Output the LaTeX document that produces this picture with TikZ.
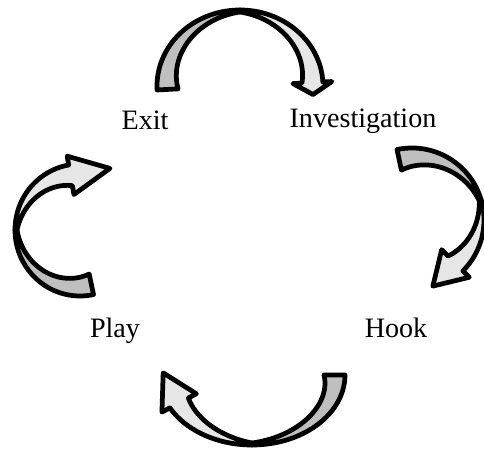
\documentclass[tikz,border=0pt]{standalone}
\usepackage{fontspec}
\setmainfont{Liberation Serif}
\usetikzlibrary{positioning}
\definecolor{backgrey}{RGB}{191,191,191}
\definecolor{frontgrey}{RGB}{230,230,230}
\tikzset{
  stage/.style  ={font=\fontsize{16}{19}\selectfont, inner sep=1pt, anchor=base},
  ribbon/.style ={draw=black, line width=2.7pt, line join=round},
}
% #1 centre, #2 rotation, #3 rx, #4 ry, #5 tail angle, #6 twist angle, #7 head angle, #8 head length
\newcommand\cyclearrow[8]{%
  \begin{scope}[shift={#1}, rotate=#2]
    \filldraw[ribbon, fill=backgrey]
      plot[domain=#5:#6, samples=40] ({#3*cos(\x)}, {#4*sin(\x)})
      -- plot[domain=#6:#5, samples=40]
         ({(#3-2-19*abs(\x-#6)/abs(#5-#6))*cos(\x)}, {(#4-2-19*abs(\x-#6)/abs(#5-#6))*sin(\x)})
      -- cycle;
    \filldraw[ribbon, fill=frontgrey]
      plot[domain=#6:#7, samples=40] ({#3*cos(\x)}, {#4*sin(\x)})
      -- ({(#3+9)*cos(#7)}, {(#4+9)*sin(#7)})
      -- ({(#3-10.5)*cos(#7)+#8*sin(#7)}, {(#4-10.5)*sin(#7)-#8*cos(#7)})
      -- ({(#3-30)*cos(#7)}, {(#4-30)*sin(#7)})
      -- plot[domain=#7:#6, samples=40]
         ({(#3-2-19*abs(\x-#6)/abs(#7-#6))*cos(\x)}, {(#4-2-19*abs(\x-#6)/abs(#7-#6))*sin(\x)})
      -- cycle;
  \end{scope}}

\begin{document}
\begin{tikzpicture}[x=0.02cm, y=0.02cm]
  \useasboundingbox (0,0) rectangle (484,449);

  % stages
  \node[stage] (exit)   at (145,319) {Exit};
  \node[stage] (invest) at (363,321) {Investigation};
  \node[stage] (hook)   at (396,111) {Hook};
  \node[stage] (play)   at (115,111) {Play};

  % curved arrows round the cycle
  \cyclearrow{(240,363)}{0}{83}{76}{183}{90}{3}{12}
  \cyclearrow{(412,229)}{-90}{72}{72}{192}{106}{45}{32}
  \cyclearrow{(252,74)}{180}{93}{70}{180}{90}{28}{34}
  \cyclearrow{(80,219)}{90}{66}{65}{192}{90}{10}{40}
\end{tikzpicture}
\end{document}
